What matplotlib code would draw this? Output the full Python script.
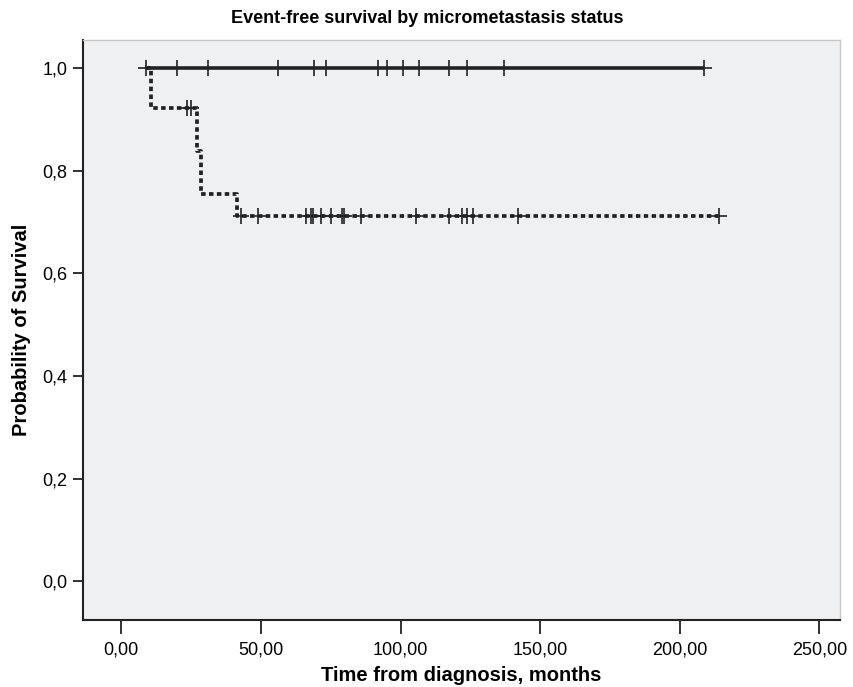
import matplotlib
matplotlib.use("Agg")
import matplotlib.pyplot as plt
from matplotlib.ticker import FuncFormatter

plt.rcParams['font.family'] = ['Liberation Sans', 'DejaVu Sans']

# group without micrometastasis: no events, only censored times (months)
neg_start = 9.0
neg_censor = [9.0, 20.1, 30.9, 56.2, 69.1, 73.2, 92.0, 95.1, 100.8,
              106.5, 117.3, 123.9, 137.1, 208.8]

# group with micrometastasis: event times and survival after each event
pos_start = 9.0
pos_event_t = [10.6, 27.0, 28.6, 41.3]
pos_event_s = [0.922, 0.838, 0.754, 0.712]
pos_censor = [23.4, 24.8, 42.8, 49.0, 66.1, 67.8, 68.7, 71.5, 75.1, 78.9,
              79.7, 85.9, 105.6, 117.5, 122.0, 123.7, 126.1, 141.9, 213.9]


def km_steps(start, ev_t, ev_s, end):
    xs, ys = [start], [1.0]
    s = 1.0
    for t, v in zip(ev_t, ev_s):
        xs += [t, t]
        ys += [s, v]
        s = v
    xs.append(end)
    ys.append(s)
    return xs, ys


def surv_at(t, ev_t, ev_s):
    s = 1.0
    for et, v in zip(ev_t, ev_s):
        if et <= t:
            s = v
    return s


fig = plt.figure(figsize=(8.54, 6.87), dpi=100)
ax = fig.add_axes([0.097, 0.098, 0.887, 0.844])
ax.set_facecolor('#eff0f2')

# solid line
xs, ys = km_steps(neg_start, [], [], max(neg_censor))
ax.plot(xs, ys, color='#222222', lw=2.6, solid_capstyle='butt')
ax.plot(neg_censor, [1.0] * len(neg_censor), ls='none', marker='+',
        ms=12, mew=1.2, color='#222222')

# dotted line
xs, ys = km_steps(pos_start, pos_event_t, pos_event_s, max(pos_censor))
ax.plot(xs, ys, color='#222222', lw=2.7, ls=(0, (1.2, 0.9)),
        dash_capstyle='butt')
ax.plot(pos_censor, [surv_at(t, pos_event_t, pos_event_s) for t in pos_censor],
        ls='none', marker='+', ms=12, mew=1.2, color='#222222')

ax.set_xlim(-13.8, 257.5)
ax.set_ylim(-0.075, 1.055)
ax.set_xticks([0, 50, 100, 150, 200, 250])
ax.set_yticks([0.0, 0.2, 0.4, 0.6, 0.8, 1.0])
ax.xaxis.set_major_formatter(FuncFormatter(lambda v, p: f"{v:.2f}".replace('.', ',')))
ax.yaxis.set_major_formatter(FuncFormatter(lambda v, p: f"{v:.1f}".replace('.', ',')))
ax.tick_params(axis='x', length=10, width=1.3, pad=6, labelsize=13, color='#222222')
ax.tick_params(axis='y', length=7, width=1.3, pad=4, labelsize=13, color='#222222')

for side in ['left', 'bottom']:
    ax.spines[side].set_linewidth(1.5)
    ax.spines[side].set_color('#222222')
for side in ['top', 'right']:
    ax.spines[side].set_linewidth(1.0)
    ax.spines[side].set_color('#c8c8c8')

ax.set_xlabel('Time from diagnosis, months', fontsize=14.5, fontweight='bold', labelpad=5)
ax.set_ylabel('Probability of Survival', fontsize=14.5, fontweight='bold', labelpad=8)
fig.suptitle('Event-free survival by micrometastasis status', x=0.5, y=0.985,
             fontsize=13, fontweight='bold', va='top')

fig.savefig('out.png', dpi=100)
